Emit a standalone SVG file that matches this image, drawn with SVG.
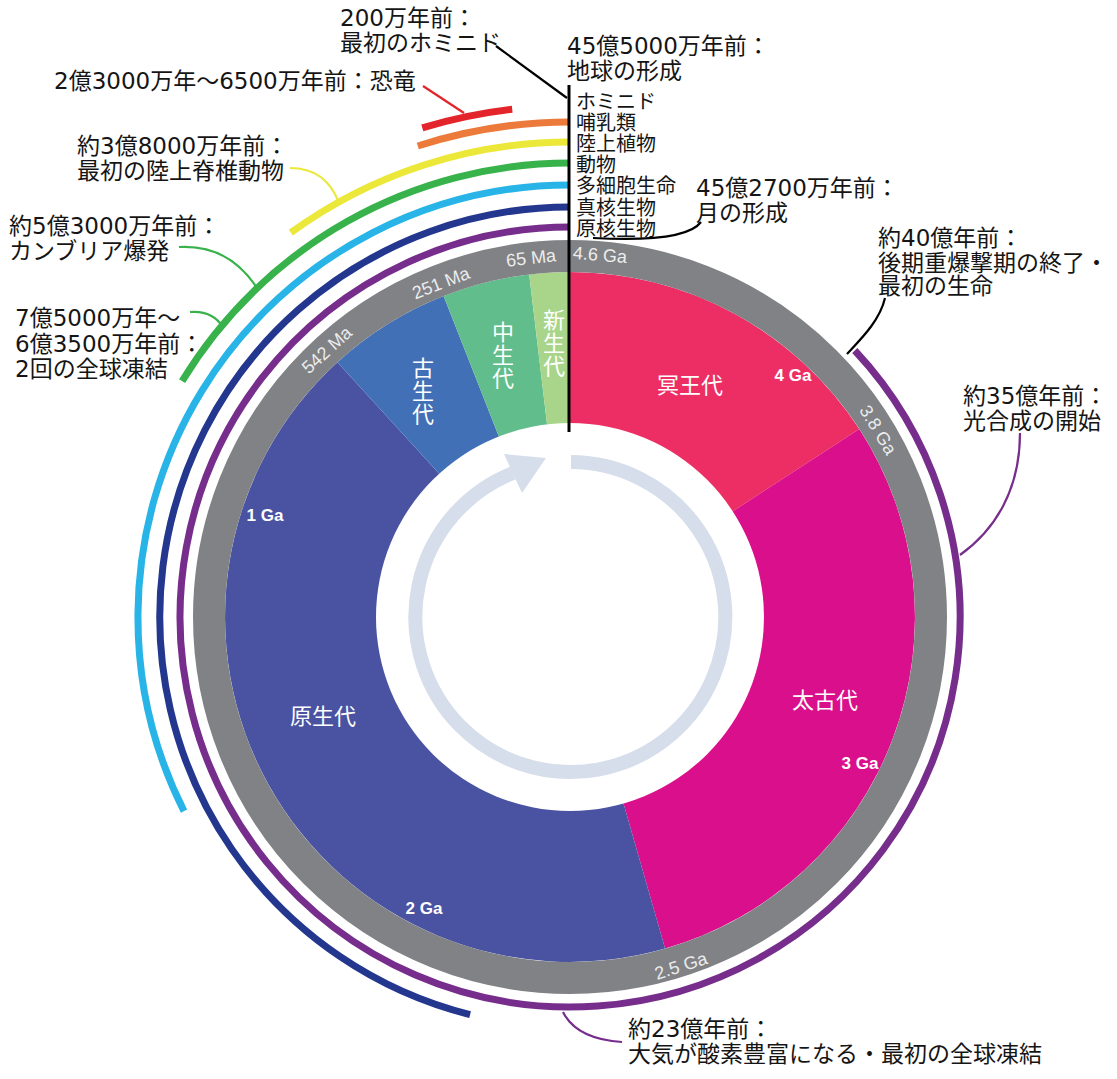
<svg xmlns="http://www.w3.org/2000/svg" width="1117" height="1079" viewBox="0 0 1117 1079">
<style>
.jp{font-family:"DejaVu Sans","Noto Sans CJK JP",sans-serif;fill:#151515;font-size:23px}
.lst{font-family:"Noto Sans CJK JP","Noto Sans",sans-serif;fill:#151515;font-size:20px}
.era{font-family:"Noto Sans CJK JP","Noto Sans",sans-serif;fill:#ffffff;font-size:22px;text-anchor:middle}
.ring{font-family:"Liberation Sans",Arial,sans-serif;fill:#ececec;font-size:18px;text-anchor:middle}
.ga{font-family:"Liberation Sans",Arial,sans-serif;fill:#ffffff;font-size:17px;font-weight:bold;text-anchor:middle}
.arc{fill:none;stroke-width:7}
.con{fill:none;stroke-width:2.2}
</style>
<rect width="1117" height="1079" fill="#ffffff"/>

<g id="eras">
  <path id="hadean" d="M570,617 L570,272 A345,345 0 0 1 859.3,429.1 Z" fill="#ec2e64"/>
  <path id="archean" d="M570,617 L859.3,429.1 A345,345 0 0 1 665.1,948.6 Z" fill="#da0f8b"/>
  <path id="proterozoic" d="M570,617 L665.1,948.6 A345,345 0 0 1 337.4,362.2 Z" fill="#4953a2"/>
  <path id="paleozoic" d="M570,617 L337.4,362.2 A345,345 0 0 1 443.6,296.0 Z" fill="#4270b6"/>
  <path id="mesozoic" d="M570,617 L443.6,296.0 A345,345 0 0 1 529.2,274.4 Z" fill="#61bd8b"/>
  <path id="cenozoic" d="M570,617 L529.2,274.4 A345,345 0 0 1 570,272 Z" fill="#a9d58b"/>
  <circle cx="570" cy="617" r="194" fill="#ffffff"/>
</g>

<g id="time-ring">
  <circle cx="570" cy="617" r="361" fill="none" stroke="#808285" stroke-width="32"/>
  <text class="ring" x="600" y="261" transform="rotate(4.7 600 255)">4.6 Ga</text>
  <text class="ring" x="531" y="264" transform="rotate(-6.2 531 258)">65 Ma</text>
  <text class="ring" x="441" y="289" transform="rotate(-21.1 441 283)">251 Ma</text>
  <text class="ring" x="327" y="356" transform="rotate(-42.3 327 350)">542 Ma</text>
  <text class="ring" x="878" y="436" transform="rotate(58.7 878 430)">3.8 Ga</text>
  <text class="ring" x="681" y="972" transform="rotate(-17.6 681 966)">2.5 Ga</text>
</g>

<g id="era-labels">
  <text class="era" x="690" y="393">冥王代</text>
  <text class="era" x="825" y="708">太古代</text>
  <text class="era" x="323" y="724">原生代</text>
  <text class="era" x="423" y="376">古<tspan x="423" dy="23">生</tspan><tspan x="423" dy="23">代</tspan></text>
  <text class="era" x="503" y="340">中<tspan x="503" dy="23">生</tspan><tspan x="503" dy="23">代</tspan></text>
  <text class="era" x="554" y="328">新<tspan x="554" dy="23">生</tspan><tspan x="554" dy="23">代</tspan></text>
  <text class="ga" x="793" y="381">4 Ga</text>
  <text class="ga" x="265" y="521">1 Ga</text>
  <text class="ga" x="860" y="769">3 Ga</text>
  <text class="ga" x="424" y="914">2 Ga</text>
</g>

<g id="cycle-arrow">
  <path d="M571,462 A155,155 0 1 1 513,473" fill="none" stroke="#d5deea" stroke-width="14"/>
  <polygon points="546,458 504,454 522,493" fill="#d5deea"/>
</g>

<g id="life-arcs">
  <path id="arc-dinosaurs" class="arc" d="M422.3,127.9 A511,511 0 0 1 512.2,109.3" stroke="#e3242b"/>
  <path id="arc-mammals" class="arc" d="M417.8,146.0 A495,495 0 0 1 570,122" stroke="#ec7a3a"/>
  <path id="arc-landplants" class="arc" d="M290.8,232.7 A475,475 0 0 1 570,142" stroke="#ebe83a"/>
  <path id="arc-animals" class="arc" d="M182.1,381.1 A454,454 0 0 1 570,163" stroke="#38b24a"/>
  <path id="arc-multicellular" class="arc" d="M184.0,811.1 A432,432 0 0 1 570,185" stroke="#28b4e6"/>
  <path id="arc-eukaryotes" class="arc" d="M470.1,1014.7 A410,410 0 0 1 570,207" stroke="#24378f"/>
  <path id="arc-prokaryotes" class="arc" d="M854.8,350.5 A390,390 0 1 1 570,227" stroke="#772d8b"/>
</g>

<g id="list-labels">
  <text class="lst" x="576" y="109">ホミニド<tspan x="576" dy="21">哺乳類</tspan><tspan x="576" dy="21">陸上植物</tspan><tspan x="576" dy="21">動物</tspan><tspan x="576" dy="21">多細胞生命</tspan><tspan x="576" dy="22">真核生物</tspan><tspan x="576" dy="21">原核生物</tspan></text>
</g>

<g id="connectors">
  <line x1="569" y1="85" x2="569" y2="432" stroke="#000000" stroke-width="3"/>
  <line class="con" x1="496" y1="46" x2="567" y2="98" stroke="#000000"/>
  <line class="con" x1="423" y1="86" x2="464" y2="113" stroke="#e3242b"/>
  <path class="con" d="M290,168 Q326,168 339,203" stroke="#ebe83a"/>
  <path class="con" d="M179,247 C215,245 240,262 257,288" stroke="#38b24a"/>
  <path class="con" d="M190,312 Q212,310 223,327" stroke="#38b24a"/>
  <path class="con" d="M593,238 C650,241 690,237 701,222" stroke="#000000"/>
  <path class="con" d="M885,298 C880,320 862,338 847,354" stroke="#000000"/>
  <path class="con" d="M1020,433 C1020,490 995,530 960,555" stroke="#772d8b"/>
  <path class="con" d="M563,1012 C572,1030 590,1040 622,1042" stroke="#772d8b"/>
</g>

<g id="ann-hominid"><text class="jp" x="340" y="26">200万年前：<tspan x="340" dy="25">最初のホミニド</tspan></text></g>
<g id="ann-earth"><text class="jp" x="567" y="54">45億5000万年前：<tspan x="567" dy="25">地球の形成</tspan></text></g>
<g id="ann-dino"><text class="jp" x="54" y="89">2億3000万年〜6500万年前：恐竜</text></g>
<g id="ann-tetrapod"><text class="jp" x="77" y="154">約3億8000万年前：<tspan x="77" dy="25">最初の陸上脊椎動物</tspan></text></g>
<g id="ann-cambrian"><text class="jp" x="9" y="234">約5億3000万年前：<tspan x="9" dy="25">カンブリア爆発</tspan></text></g>
<g id="ann-snowball"><text class="jp" x="15" y="326">7億5000万年〜<tspan x="15" dy="26">6億3500万年前：</tspan><tspan x="15" dy="25">2回の全球凍結</tspan></text></g>
<g id="ann-moon"><text class="jp" x="696" y="196">45億2700万年前：<tspan x="696" dy="25">月の形成</tspan></text></g>
<g id="ann-firstlife"><text class="jp" x="878" y="246">約40億年前：<tspan x="878" dy="25">後期重爆撃期の終了・</tspan><tspan x="878" dy="23">最初の生命</tspan></text></g>
<g id="ann-photosynthesis"><text class="jp" x="963" y="404">約35億年前：<tspan x="963" dy="25">光合成の開始</tspan></text></g>
<g id="ann-oxygen"><text class="jp" x="628" y="1037">約23億年前：<tspan x="628" dy="25">大気が酸素豊富になる・最初の全球凍結</tspan></text></g>
</svg>
